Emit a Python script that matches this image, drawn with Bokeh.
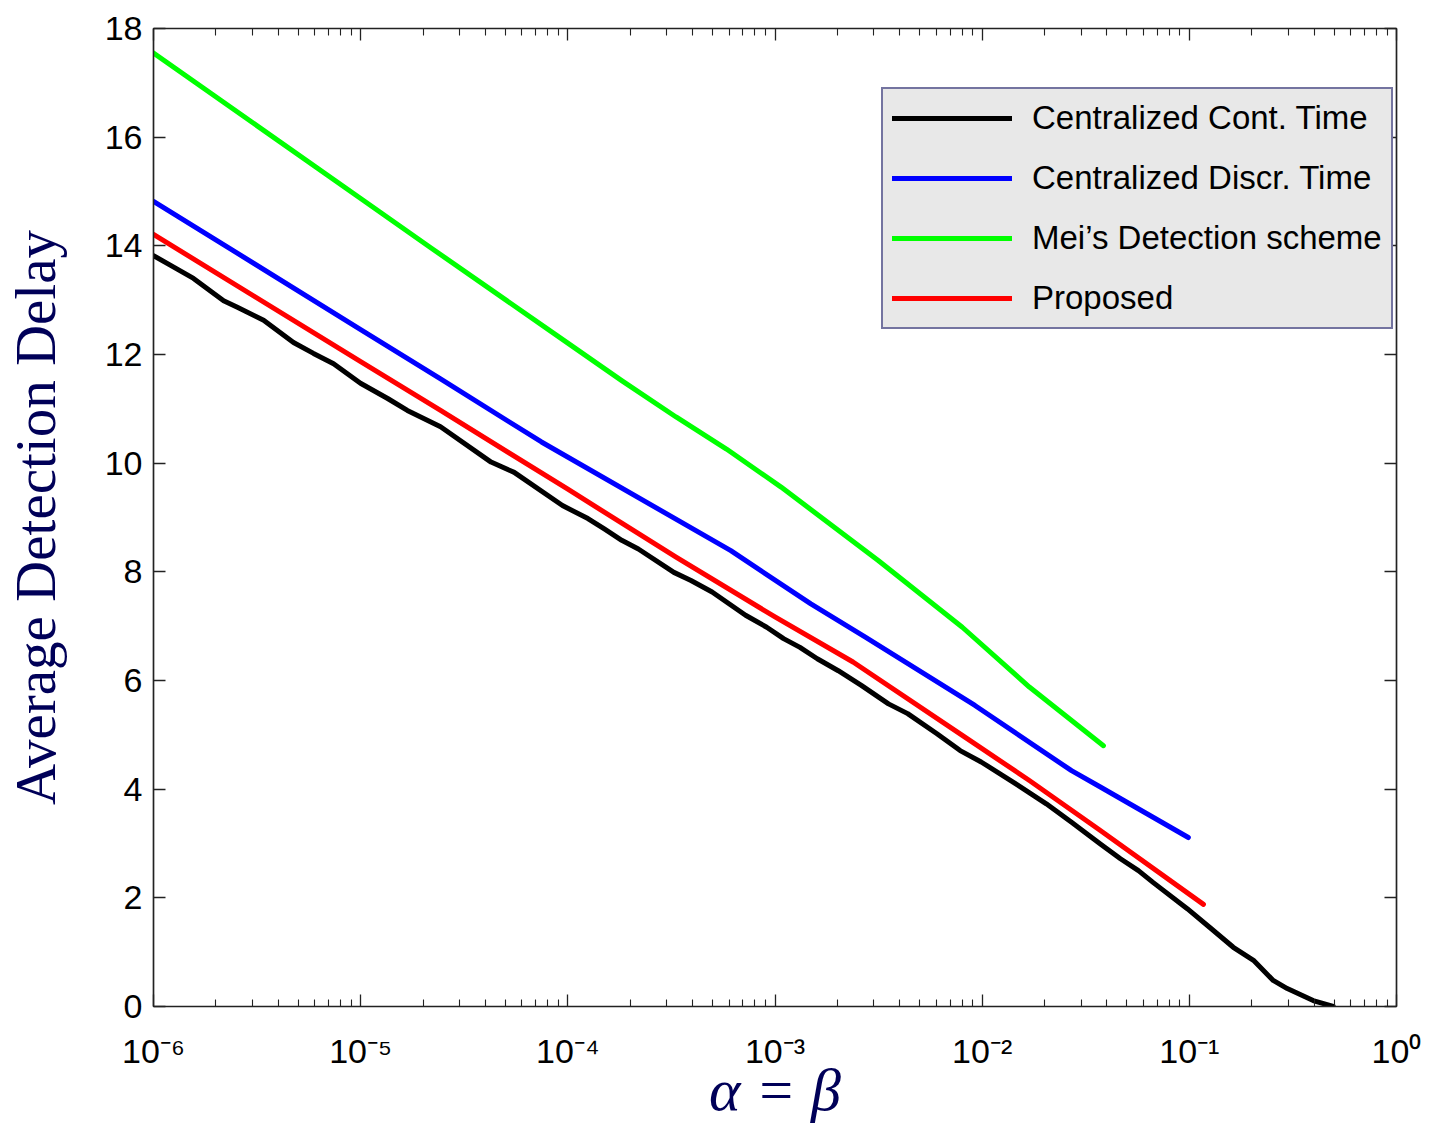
from bokeh.plotting import figure
from bokeh.models import (Legend, LegendItem, FixedTicker, LogAxis, LinearAxis,
                          Range1d, CustomJSTickFormatter)
from bokeh.embed import file_html
from bokeh.resources import INLINE

# ---------------- data ----------------
cont_alpha = [1.00e-6, 1.21e-6, 1.56e-6, 2.18e-6, 2.54e-6, 3.40e-6, 4.74e-6, 5.92e-6,
              7.40e-6, 9.98e-6, 1.35e-5, 1.68e-5, 2.43e-5, 4.26e-5, 5.51e-5, 9.42e-5,
              1.25e-4, 1.50e-4, 1.82e-4, 2.19e-4, 3.25e-4, 3.93e-4, 4.97e-4, 7.21e-4,
              9.12e-4, 1.10e-3, 1.32e-3, 1.60e-3, 2.02e-3, 2.61e-3, 3.53e-3, 4.37e-3,
              6.05e-3, 7.83e-3, 9.89e-3, 1.41e-2, 2.04e-2, 2.70e-2, 3.72e-2, 4.65e-2,
              5.68e-2, 6.70e-2, 9.77e-2, 0.126, 0.163, 0.204, 0.254, 0.297, 0.396, 0.495]
cont_delay = [13.82, 13.64, 13.40, 12.99, 12.87, 12.63, 12.22, 12.02,
              11.83, 11.47, 11.19, 10.97, 10.67, 10.02, 9.83, 9.22,
              8.98, 8.79, 8.58, 8.42, 7.99, 7.84, 7.63, 7.20,
              6.98, 6.77, 6.61, 6.40, 6.18, 5.91, 5.57, 5.39,
              5.02, 4.71, 4.50, 4.13, 3.73, 3.39, 2.99, 2.72,
              2.50, 2.28, 1.80, 1.45, 1.09, 0.85, 0.48, 0.33, 0.11, 0.0]

discr_alpha = [1e-6, 1e-5, 2.43e-5, 7.46e-5, 6.12e-4, 1.49e-3, 2.73e-3, 9.23e-3,
               2.70e-2, 3.72e-2, 9.89e-2]
discr_delay = [14.82, 12.46, 11.55, 10.39, 8.39, 7.41, 6.80, 5.54, 4.34, 4.04, 3.11]

mei_alpha = [1e-6, 1e-5, 2.17e-5, 1e-4, 1.82e-4, 3.33e-4, 5.83e-4, 1.07e-3, 3.15e-3,
             8.02e-3, 1.69e-2, 3.85e-2]
mei_delay = [17.55, 14.87, 13.97, 12.21, 11.52, 10.85, 10.26, 9.56, 8.21, 6.98, 5.88, 4.80]

prop_alpha = [1e-6, 1e-5, 2.43e-5, 1e-4, 3.33e-4, 1e-3, 2.38e-3, 8.02e-3, 1.69e-2,
              3.72e-2, 0.117]
prop_delay = [14.21, 11.87, 10.97, 9.52, 8.27, 7.17, 6.34, 4.99, 4.16, 3.24, 1.88]

series_names = ["Centralized Cont. Time", "Centralized Discr. Time",
                "Mei\u2019s Detection scheme", "Proposed"]

x_tick_values = [1e-6, 1e-5, 1e-4, 1e-3, 1e-2, 1e-1, 1e0]
x_tick_labels = ["10\u207b\u2076", "10\u207b\u2075", "10\u207b\u2074", "10\u207b\u00b3",
                 "10\u207b\u00b2", "10\u207b\u00b9", "10\u2070"]
x_minor_ticks = [m * t for t in x_tick_values[:-1] for m in range(2, 10)]
y_tick_values = [0, 2, 4, 6, 8, 10, 12, 14, 16, 18]
y_tick_labels = ["0", "2", "4", "6", "8", "10", "12", "14", "16", "18"]

x_label = "\u03b1 = \u03b2"
y_label = "Average Detection Delay"

# ---------------- figure ----------------
NAVY = "#000058"
SANS = "Liberation Sans"
SERIF = "Liberation Serif"

p = figure(width=1454, height=1125, x_axis_type="log",
           x_range=Range1d(1e-6, 1), y_range=Range1d(0, 18),
           output_backend="svg", toolbar_location=None,
           min_border_left=153, min_border_right=58,
           min_border_top=28, min_border_bottom=119)
p.xgrid.visible = False
p.ygrid.visible = False
p.outline_line_color = "black"
p.outline_line_width = 1.2
p.background_fill_color = "white"
p.border_fill_color = "white"

empty_fmt = CustomJSTickFormatter(code="return '';")


def style_axis(ax):
    ax.axis_line_color = "#222222"
    ax.axis_line_width = 1.5
    ax.major_tick_line_color = "#222222"
    ax.minor_tick_line_color = "#222222"
    ax.major_tick_line_width = 1.3
    ax.minor_tick_line_width = 1.1
    ax.major_tick_in = 12
    ax.major_tick_out = 0
    ax.minor_tick_in = 7
    ax.minor_tick_out = 0


xax = p.xaxis[0]
xax.ticker = FixedTicker(ticks=x_tick_values, minor_ticks=x_minor_ticks)
xax.major_label_overrides = {v: s for v, s in zip(x_tick_values, x_tick_labels)}
xax.major_label_text_font = SANS
xax.major_label_text_font_size = "34px"
xax.major_label_text_color = "black"
xax.major_label_standoff = 25
xax.axis_label = x_label
xax.axis_label_text_font = SERIF
xax.axis_label_text_font_style = "italic"
xax.axis_label_text_font_size = "60px"
xax.axis_label_text_color = NAVY
xax.axis_label_standoff = -16
style_axis(xax)

yax = p.yaxis[0]
yax.ticker = FixedTicker(ticks=y_tick_values)
yax.major_label_overrides = {v: s for v, s in zip(y_tick_values, y_tick_labels)}
yax.major_label_text_font = SANS
yax.major_label_text_font_size = "34px"
yax.major_label_text_color = "black"
yax.major_label_standoff = 11
yax.axis_label = y_label
yax.axis_label_text_font = SERIF
yax.axis_label_text_font_style = "normal"
yax.axis_label_text_font_size = "57px"
yax.axis_label_text_color = NAVY
yax.axis_label_standoff = 35
style_axis(yax)

top = LogAxis(ticker=FixedTicker(ticks=x_tick_values, minor_ticks=x_minor_ticks),
              formatter=empty_fmt, major_label_standoff=0)
style_axis(top)
p.add_layout(top, "above")

right = LinearAxis(ticker=FixedTicker(ticks=y_tick_values), formatter=empty_fmt,
                   major_label_standoff=0)
style_axis(right)
p.add_layout(right, "right")

# ---------------- lines ----------------
line_kw = dict(line_width=5, line_cap="round", line_join="round")
r_cont = p.line(cont_alpha, cont_delay, line_color="black", **line_kw)
r_discr = p.line(discr_alpha, discr_delay, line_color="#0000ff", **line_kw)
r_mei = p.line(mei_alpha, mei_delay, line_color="#00ff00", **line_kw)
r_prop = p.line(prop_alpha, prop_delay, line_color="#ff0000", **line_kw)

legend = Legend(items=[LegendItem(label=n, renderers=[r]) for n, r in
                       zip(series_names, [r_cont, r_discr, r_mei, r_prop])],
                location=(728, 677))
legend.background_fill_color = "#e8e8e8"
legend.background_fill_alpha = 1.0
legend.border_line_color = NAVY
legend.border_line_width = 2.5
legend.padding = 9
legend.spacing = 20
legend.margin = 0
legend.glyph_width = 120
legend.glyph_height = 40
legend.label_height = 40
legend.label_standoff = 20
legend.label_text_font = SANS
legend.label_text_font_size = "33px"
legend.label_text_color = "black"
p.add_layout(legend, "center")

open("out.html", "w").write(file_html(p, INLINE))
